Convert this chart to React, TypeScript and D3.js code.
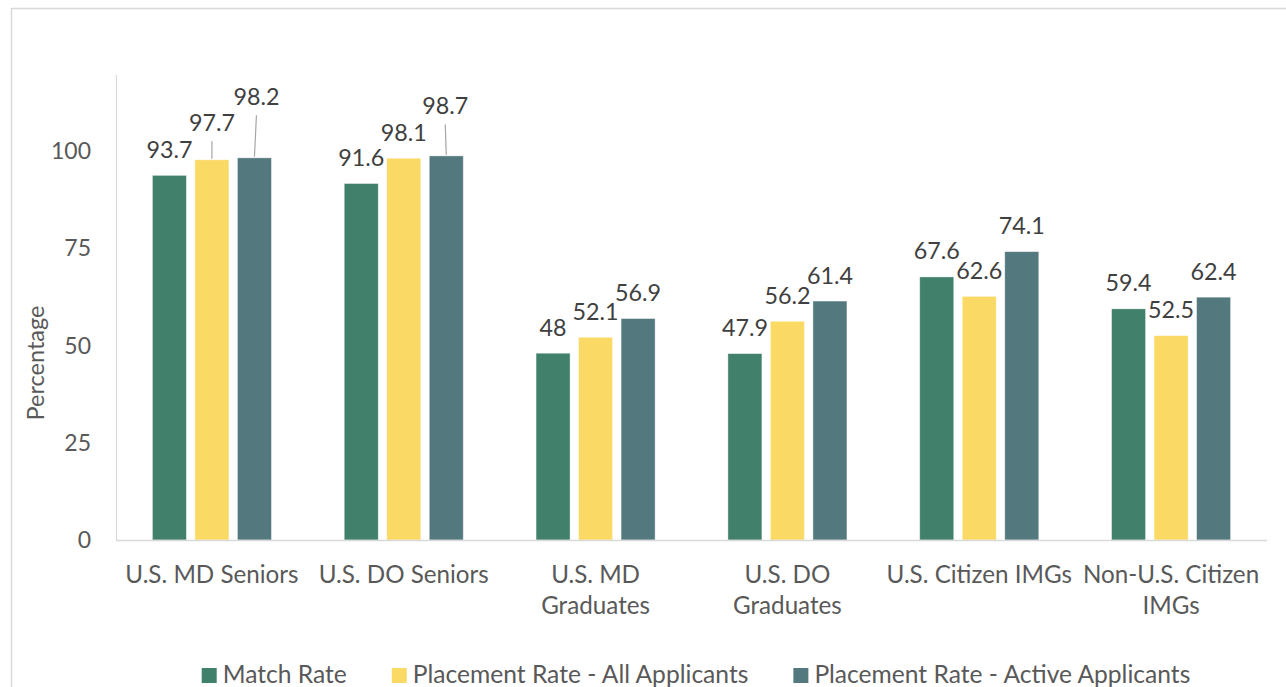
import React, { useRef, useEffect } from 'react';
import * as d3 from 'd3';

const categories = [
  'U.S. MD Seniors',
  'U.S. DO Seniors',
  'U.S. MD Graduates',
  'U.S. DO Graduates',
  'U.S. Citizen IMGs',
  'Non-U.S. Citizen IMGs',
];
// how each category label wraps under the axis
const categoryLines = [
  ['U.S. MD Seniors'],
  ['U.S. DO Seniors'],
  ['U.S. MD', 'Graduates'],
  ['U.S. DO', 'Graduates'],
  ['U.S. Citizen IMGs'],
  ['Non-U.S. Citizen', 'IMGs'],
];

const seriesNames = ['Match Rate', 'Placement Rate - All Applicants', 'Placement Rate - Active Applicants'];
const matchRate = [93.7, 91.6, 48, 47.9, 67.6, 59.4];
const placementAll = [97.7, 98.1, 52.1, 56.2, 62.6, 52.5];
const placementActive = [98.2, 98.7, 56.9, 61.4, 74.1, 62.4];
const yTicks = [0, 25, 50, 75, 100];

const colors = ['#41806a', '#fad965', '#53797e'];

// labels Excel pushed up and tied to their bar with a leader line: [series, category, extra lift, dx]
const liftedLabels: [number, number, number, number][] = [
  [1, 0, 11, 0],
  [2, 0, 35, 2],
  [2, 1, 24, -1],
];

const W = 1286;
const H = 687;

const App: React.FC = () => {
  const svgRef = useRef<SVGSVGElement>(null);

  useEffect(() => {
    if (!svgRef.current) return;
    const svg = d3.select(svgRef.current);
    svg.selectAll('*').remove();

    const font = 'Lato, "Open Sans", sans-serif';
    const left = 116, right = 1267, top = 73, bottom = 540;
    const values = [matchRate, placementAll, placementActive];

    // chart frame
    svg.append('rect')
      .attr('x', 11.5).attr('y', 8.5)
      .attr('width', W).attr('height', H)
      .attr('fill', 'none').attr('stroke', '#d9d9d9').attr('stroke-width', 1.5);

    const x = d3.scaleBand<string>().domain(categories).range([left, right]);
    const xs = d3.scaleBand<number>().domain([0, 1, 2])
      .range([0, x.bandwidth()]).paddingInner(0.2).paddingOuter(0.856);
    const y = d3.scaleLinear().domain([0, 120]).range([bottom, top]);

    // value axis line
    svg.append('line')
      .attr('x1', left + 0.5).attr('x2', left + 0.5)
      .attr('y1', y(120) + 2).attr('y2', bottom)
      .attr('stroke', '#d9d9d9').attr('stroke-width', 1.2);

    svg.append('g').selectAll('text')
      .data(yTicks)
      .join('text')
        .attr('x', 91).attr('y', d => y(d)).attr('dy', '0.36em')
        .attr('text-anchor', 'end')
        .attr('font-family', font).attr('font-size', 23).attr('fill', '#595959')
        .text(d => d);

    svg.append('text')
      .attr('transform', `translate(36,363) rotate(-90)`)
      .attr('dy', '0.36em')
      .attr('text-anchor', 'middle')
      .attr('font-family', font).attr('font-size', 23.5).attr('fill', '#595959')
      .text('Percentage');

    // bars
    values.forEach((vals, s) => {
      svg.append('g')
        .attr('fill', colors[s])
        .selectAll('rect')
        .data(vals)
        .join('rect')
          .attr('x', (d, i) => x(categories[i])! + xs(s)!)
          .attr('width', xs.bandwidth())
          .attr('y', d => y(d))
          .attr('height', d => y(0) - y(d))
          .attr('stroke', '#ffffff').attr('stroke-opacity', 0.5).attr('stroke-width', 0.8);
    });

    // category axis
    svg.append('line')
      .attr('x1', left).attr('x2', right)
      .attr('y1', bottom + 0.5).attr('y2', bottom + 0.5)
      .attr('stroke', '#d9d9d9').attr('stroke-width', 1.5);

    const catG = svg.append('g')
      .attr('font-family', font).attr('font-size', 24.2).attr('fill', '#595959')
      .attr('text-anchor', 'middle');
    categories.forEach((c, i) => {
      const cx = x(c)! + x.bandwidth() / 2;
      categoryLines[i].forEach((line, j) => {
        catG.append('text').attr('x', cx).attr('y', 583 + j * 31).text(line);
      });
    });

    // data labels
    const labG = svg.append('g')
      .attr('font-family', font).attr('font-size', 23.3).attr('fill', '#404040')
      .attr('text-anchor', 'middle');
    values.forEach((vals, s) => {
      vals.forEach((v, i) => {
        const bx = x(categories[i])! + xs(s)! + xs.bandwidth() / 2;
        const lift = liftedLabels.find(l => l[0] === s && l[1] === i);
        const baseY = y(v) - 17.5 - (lift ? lift[2] : 0);
        const lx = bx + (lift ? lift[3] : 0);
        if (lift) {
          svg.append('line')
            .attr('x1', bx).attr('y1', y(v) - 1)
            .attr('x2', lx).attr('y2', baseY + 10)
            .attr('stroke', '#a6a6a6').attr('stroke-width', 1.2);
        }
        labG.append('text').attr('x', lx).attr('y', baseY).text(String(v));
      });
    });

    // legend, centred under the plot
    const legend = svg.append('g')
      .attr('font-family', font).attr('font-size', 24.6).attr('fill', '#595959');
    let cursor = 0;
    seriesNames.forEach((name, s) => {
      const item = legend.append('g').attr('transform', `translate(${cursor},0)`);
      item.append('rect')
        .attr('x', 0).attr('y', -15).attr('width', 15).attr('height', 15)
        .attr('fill', colors[s]);
      const t = item.append('text').attr('x', 21).attr('y', 0).text(name);
      const len = (t.node() as SVGTextElement).getComputedTextLength();
      cursor += 21 + len + 45;
    });
    const total = cursor - 45;
    legend.attr('transform', `translate(${696 - total / 2},683)`);
  }, []);

  return (
    <svg
      ref={svgRef}
      width={W}
      height={H}
      style={{ position: 'fixed', left: 0, top: 0, background: '#ffffff' }}
    />
  );
};

export default App;
